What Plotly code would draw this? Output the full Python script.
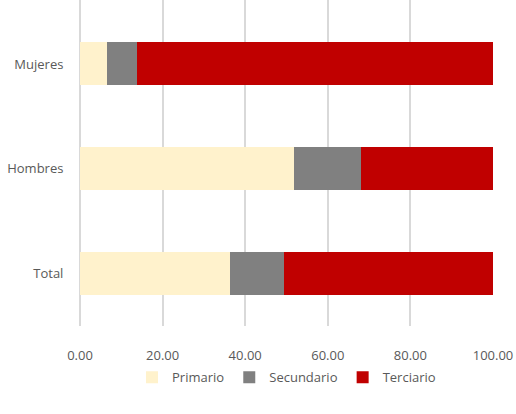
import plotly.graph_objects as go

categories = ["Total", "Hombres", "Mujeres"]
primario = [36.2, 51.9, 6.5]
secundario = [13.3, 16.2, 7.4]
terciario = [50.5, 31.9, 86.1]
series_names = ["Primario", "Secundario", "Terciario"]
colors = ["#FFF2CC", "#808080", "#C00000"]
tick_vals = [0, 20, 40, 60, 80, 100]

fig = go.Figure()
for name, vals, col in zip(series_names, [primario, secundario, terciario], colors):
    fig.add_trace(go.Bar(y=categories, x=vals, name=name, orientation="h",
                         marker=dict(color=col, line=dict(width=0)), width=0.41))

font = "Open Sans, Liberation Sans, Arial"
fig.update_layout(
    barmode="stack",
    width=516, height=414,
    margin=dict(l=80, r=23, t=0, b=88, autoexpand=False),
    plot_bgcolor="white", paper_bgcolor="white",
    font=dict(family=font, size=13, color="#595959"),
    xaxis=dict(range=[0, 100], tickvals=tick_vals, tickformat=".2f",
               showgrid=True, gridcolor="#D9D9D9", gridwidth=1.5,
               zeroline=True, zerolinecolor="#D9D9D9", zerolinewidth=1.5,
               showline=False, ticks="outside", ticklen=17, tickcolor="white",
               automargin=False),
    yaxis=dict(range=[-0.5, 2.61], showgrid=False, zeroline=False, showline=False,
               ticks="outside", ticklen=13, tickcolor="white", automargin=False),
    legend=dict(orientation="h", x=0.5, xanchor="center", y=-0.157, yanchor="middle",
                traceorder="normal", itemwidth=30, font=dict(size=13)),
)
fig.write_html("out.html", config={"displayModeBar": False},
               post_script="document.body.style.margin='0px';")
